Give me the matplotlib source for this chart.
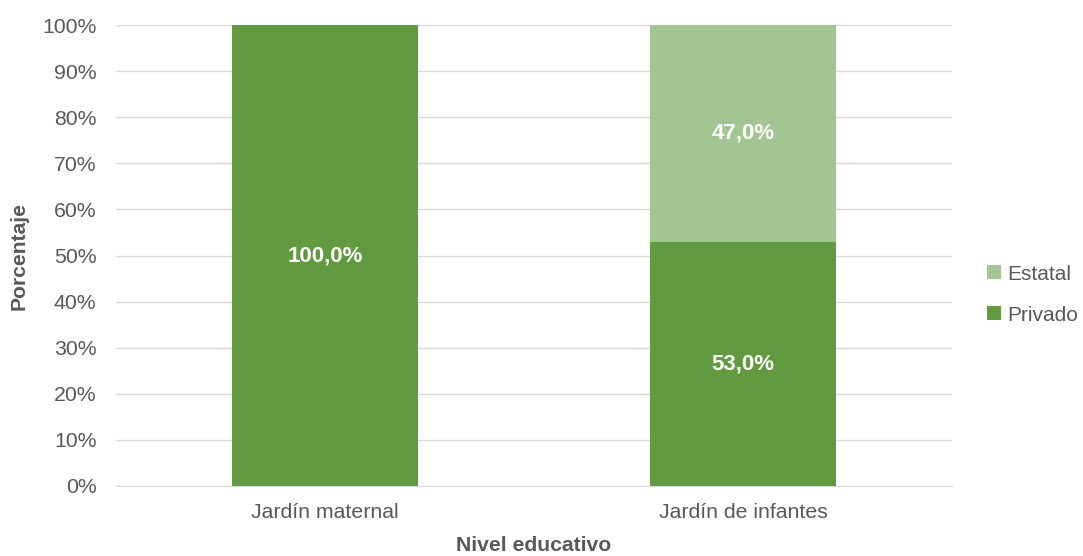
import numpy as np
import matplotlib.pyplot as plt
from matplotlib.ticker import PercentFormatter

# Data
categorias = ["Jardín maternal", "Jardín de infantes"]
privado = [100.0, 53.0]
estatal = [0.0, 47.0]

col_priv = "#619A3F"
col_est = "#A2C592"
gris = "#595959"

plt.rcParams['font.family'] = ['Liberation Sans', 'DejaVu Sans']

fig = plt.figure(figsize=(10.83, 5.56), dpi=100)
ax = fig.add_axes([0.1071, 0.1259, 0.7719, 0.8291])

x = np.arange(len(categorias))
w = 0.443
b1 = ax.bar(x, privado, w, color=col_priv, label="Privado", zorder=3)
b2 = ax.bar(x, estatal, w, bottom=privado, color=col_est, label="Estatal", zorder=3)

# etiquetas dentro de las barras
for i in range(len(categorias)):
    if privado[i] > 0:
        ax.text(x[i], privado[i] / 2, f"{privado[i]:.1f}%".replace(".", ","),
                ha="center", va="center", color="white", fontsize=16, fontweight="bold")
    if estatal[i] > 0:
        ax.text(x[i], privado[i] + estatal[i] / 2, f"{estatal[i]:.1f}%".replace(".", ","),
                ha="center", va="center", color="white", fontsize=16, fontweight="bold")

ax.set_xlim(-0.5, 1.5)
ax.set_ylim(0, 100)
ax.set_yticks(np.arange(0, 101, 10))
ax.yaxis.set_major_formatter(PercentFormatter(decimals=0))
ax.set_xticks(x)
ax.set_xticklabels(categorias)
ax.tick_params(axis="both", colors=gris, labelsize=15.3, length=0)
ax.tick_params(axis="y", pad=14)
ax.tick_params(axis="x", pad=12)
ax.grid(axis="y", color="#D9D9D9", linewidth=1, zorder=0)
for s in ["top", "right", "left"]:
    ax.spines[s].set_visible(False)
ax.spines["bottom"].set_color("#D9D9D9")

ax.set_xlabel("Nivel educativo", color=gris, fontsize=15.2, fontweight="bold", labelpad=10)
ax.set_ylabel("Porcentaje", color=gris, fontsize=15.2, fontweight="bold", labelpad=10)

leg = ax.legend(handles=[b2, b1], loc="center left", bbox_to_anchor=(1.025, 0.415),
                frameon=False, fontsize=15, handlelength=0.65, handleheight=0.65,
                handletextpad=0.3, labelspacing=1.05, borderpad=0.2)
for t in leg.get_texts():
    t.set_color(gris)

fig.savefig("out.png", dpi=100)
